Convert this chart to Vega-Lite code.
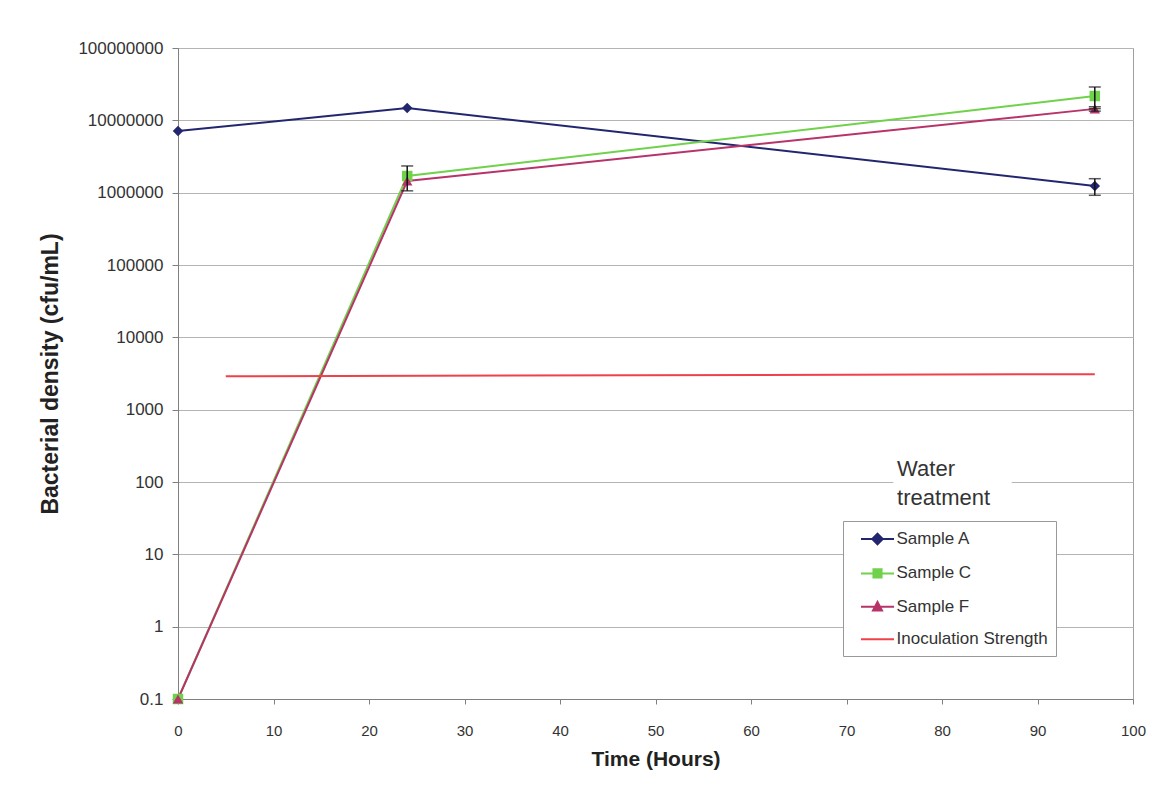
{
  "$schema": "https://vega.github.io/schema/vega-lite/v6.json",
  "width": 955,
  "height": 651,
  "autosize": "none",
  "padding": {"left": 178, "top": 48, "right": 24, "bottom": 88},
  "background": "white",
  "config": {
    "font": "Liberation Sans",
    "view": {"stroke": "#a0a0a0", "strokeWidth": 1},
    "axis": {"labelColor": "#333333", "titleColor": "#222222", "domainColor": "#808080", "tickColor": "#808080"}
  },
  "datasets": {
    "growth": [
      {"series": "Sample A", "t": 0, "v": 7100000},
      {"series": "Sample A", "t": 24, "v": 14800000},
      {"series": "Sample A", "t": 96, "v": 1240000, "lo": 920000, "hi": 1560000},
      {"series": "Sample C", "t": 0, "v": 0.1},
      {"series": "Sample C", "t": 24, "v": 1700000, "lo": 1060000, "hi": 2340000},
      {"series": "Sample C", "t": 96, "v": 21700000, "lo": 14500000, "hi": 28900000},
      {"series": "Sample F", "t": 0, "v": 0.1},
      {"series": "Sample F", "t": 24, "v": 1450000},
      {"series": "Sample F", "t": 96, "v": 14400000, "lo": 13400000, "hi": 15400000},
      {"series": "Inoculation Strength", "t": 5, "v": 2900},
      {"series": "Inoculation Strength", "t": 96, "v": 3100}
    ],
    "note": [{"label": "Water treatment"}]
  },
  "data": {"name": "growth"},
  "layer": [
    {
      "data": {"name": "note"},
      "mark": {"type": "rect", "fill": "white"},
      "encoding": {
        "x": {"datum": 74.9, "type": "quantitative"},
        "x2": {"datum": 87.3},
        "y": {"datum": 70, "type": "quantitative"},
        "y2": {"datum": 140}
      }
    },
    {
      "mark": {"type": "line", "strokeWidth": 2},
      "encoding": {
        "x": {
          "field": "t", "type": "quantitative",
          "scale": {"domain": [0, 100], "nice": false},
          "axis": {
            "values": [0, 10, 20, 30, 40, 50, 60, 70, 80, 90, 100],
            "grid": false, "tickSize": 5, "labelFontSize": 15, "labelPadding": 19, "labelFlush": false,
            "title": "Time (Hours)", "titleFontSize": 21, "titleFontWeight": "bold",
            "titleBaseline": "alphabetic", "titleY": 66
          }
        },
        "y": {
          "field": "v", "type": "quantitative",
          "scale": {"type": "log", "domain": [0.1, 100000000], "nice": false},
          "axis": {
            "values": [0.1, 1, 10, 100, 1000, 10000, 100000, 1000000, 10000000, 100000000],
            "labelExpr": "datum.value < 1 ? '0.1' : format(datum.value, 'd')",
            "grid": true, "gridColor": "#b4b4b4", "tickSize": 6, "labelPadding": 9, "labelFontSize": 17,
            "title": "Bacterial density (cfu/mL)", "titleFontSize": 23, "titleFontWeight": "bold",
            "titleBaseline": "alphabetic", "titleX": -121
          }
        },
        "color": {
          "field": "series", "type": "nominal",
          "scale": {
            "domain": ["Sample A", "Sample C", "Sample F", "Inoculation Strength"],
            "range": ["#22266e", "#6fd24a", "#b8336a", "#f0404a"]
          },
          "legend": {
            "title": null,
            "orient": "none", "legendX": 665, "legendY": 473,
            "fillColor": "white", "strokeColor": "#999999", "padding": 8,
            "symbolSize": 324, "symbolOffset": 16.5, "symbolStrokeWidth": 2,
            "labelOffset": 9, "rowPadding": 14.4,
            "labelFontSize": 17, "labelColor": "#333333", "labelFont": "Liberation Sans",
            "encode": {
              "symbols": {
                "update": {
                  "shape": {"signal": "datum.value === 'Sample A' ? 'M-1.833,0H1.833M0,-0.58L0.58,0L0,0.58L-0.58,0Z' : datum.value === 'Sample C' ? 'M-1.833,0H1.833M-0.45,-0.45H0.45V0.45H-0.45Z' : datum.value === 'Sample F' ? 'M-1.833,0H1.833M0,-0.55L0.5,0.4H-0.5Z' : 'M-1.833,0H1.833'"},
                  "stroke": {"scale": "color", "field": "value"},
                  "fill": {"scale": "color", "field": "value"},
                  "strokeWidth": {"value": 2},
                  "opacity": {"value": 1}
                }
              }
            }
          }
        }
      }
    },
    {
      "transform": [{"filter": "datum.series !== 'Inoculation Strength'"}],
      "mark": {"type": "point", "filled": true, "opacity": 1},
      "encoding": {
        "x": {"field": "t", "type": "quantitative"},
        "y": {"field": "v", "type": "quantitative", "title": "Bacterial density (cfu/mL)"},
        "color": {"field": "series", "type": "nominal"},
        "shape": {
          "field": "series", "type": "nominal",
          "scale": {"domain": ["Sample A", "Sample C", "Sample F"], "range": ["diamond", "square", "triangle-up"]},
          "legend": null
        },
        "size": {"value": 110}
      }
    },
    {
      "transform": [{"filter": "isValid(datum.lo)"}],
      "mark": {"type": "errorbar", "ticks": {"size": 12}, "color": "#111111", "thickness": 1.5},
      "encoding": {
        "x": {"field": "t", "type": "quantitative", "title": "Time (Hours)"},
        "y": {"field": "lo", "type": "quantitative", "title": "Bacterial density (cfu/mL)"},
        "y2": {"field": "hi"}
      }
    },
    {
      "data": {"name": "note"},
      "mark": {"type": "text", "align": "left", "baseline": "alphabetic", "fontSize": 22, "fontWeight": "normal", "color": "#333333", "lineHeight": 29, "lineBreak": " "},
      "encoding": {
        "x": {"datum": 75.3, "type": "quantitative"},
        "y": {"datum": 121, "type": "quantitative"},
        "text": {"field": "label"}
      }
    }
  ]
}
